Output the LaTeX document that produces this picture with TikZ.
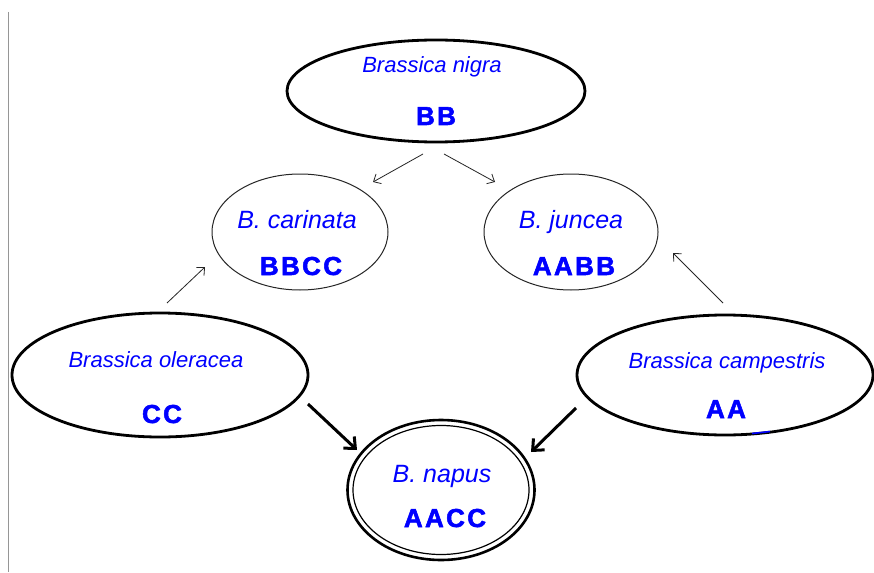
\documentclass[tikz,border=0pt]{standalone}
\usepackage{fontspec}
\setmainfont{Liberation Sans}
\usetikzlibrary{shapes.geometric,arrows.meta}
\definecolor{labelblue}{RGB}{0,0,255}
\definecolor{frameline}{RGB}{150,150,150}
\begin{document}
\begin{tikzpicture}[x=1pt,y=-1pt,
  species/.style={ellipse, draw=black, line width=2.8pt, inner sep=0pt},
  hybrid/.style={ellipse, draw=black!85, line width=1pt, inner sep=0pt},
  taxon/.style={text=labelblue, font=\itshape\fontsize{22}{24}\selectfont, anchor=base, inner sep=0pt},
  shorttaxon/.style={taxon, font=\itshape\fontsize{25}{27}\selectfont},
  genome/.style={text=labelblue, font=\bfseries\fontsize{26}{28}\selectfont\addfontfeature{LetterSpace=9,FakeBold=2}, anchor=base, inner sep=0pt},
  thinarrow/.style={-{Straight Barb[length=6pt,width=11pt]}, line width=0.8pt, draw=black!85},
  thickarrow/.style={-{Straight Barb[length=9pt,width=16pt]}, line width=3pt, draw=black}
]
\useasboundingbox (0,0) rectangle (874,572);
\fill[white] (0,0) rectangle (874,572);

% left frame rule
\coordinate (frametop) at (8,12);
\coordinate (framebot) at (8,572);
\draw[frameline, line width=1pt] (frametop) -- (framebot);

% diploid species
\node[species, minimum width=298pt, minimum height=102pt] (nigra) at (436,91) {};
\node[species, minimum width=296pt, minimum height=124pt] (oleracea) at (160,375) {};
\node[species, minimum width=296pt, minimum height=120pt] (campestris) at (725,375) {};

% amphidiploids
\node[hybrid, minimum width=176pt, minimum height=116pt] (carinata) at (300,232) {};
\node[hybrid, minimum width=174pt, minimum height=116pt] (juncea) at (571,232) {};
\node[ellipse, draw=black, line width=2.6pt, inner sep=0pt, minimum width=187pt, minimum height=140pt] (napus) at (441,490) {};
\node[ellipse, draw=black, line width=1.2pt, inner sep=0pt, minimum width=176pt, minimum height=129pt] (napusinner) at (napus.center) {};

% names and genomes
\node[taxon] (nigraname) at (432,73) {Brassica nigra};
\node[genome] (nigragen) at (436,125) {BB};
\node[shorttaxon] (carinataname) at (297,228) {B. carinata};
\node[genome] (carinatagen) at (301,275) {BBCC};
\node[shorttaxon] (junceaname) at (571,228) {B. juncea};
\node[genome] (junceagen) at (574,275) {AABB};
\node[taxon] (oleraceaname) at (156,367) {Brassica oleracea};
\node[genome] (oleraceagen) at (162,423) {CC};
\node[taxon] (campestrisname) at (727,368) {Brassica campestris};
\node[genome] (campestrisgen) at (726,418) {AA};
\node[shorttaxon] (napusname) at (442,482) {B. napus};
\node[genome] (napusgen) at (445,527) {AACC};

% arrow ends
\coordinate (ntoc1) at (423,154);
\coordinate (ntoc2) at (373,182);
\coordinate (ntoj1) at (444,154);
\coordinate (ntoj2) at (495,182);
\coordinate (otoc1) at (167,303);
\coordinate (otoc2) at (205,267);
\coordinate (ctoj1) at (723,303);
\coordinate (ctoj2) at (673,253);
\coordinate (oton1) at (308,404);
\coordinate (oton2) at (357,450);
\coordinate (cton1) at (576,408);
\coordinate (cton2) at (531,452);

\draw[thinarrow] (ntoc1) -- (ntoc2);
\draw[thinarrow] (ntoj1) -- (ntoj2);
\draw[thinarrow] (otoc1) -- (otoc2);
\draw[thinarrow] (ctoj1) -- (ctoj2);
\draw[thickarrow] (oton1) -- (oton2);
\draw[thickarrow] (cton1) -- (cton2);

% blue stroke on the campestris outline
\coordinate (tick1) at (752,433.5);
\coordinate (tick2) at (770,431.5);
\draw[labelblue, line width=1.6pt] (tick1) -- (tick2);
\end{tikzpicture}
\end{document}
